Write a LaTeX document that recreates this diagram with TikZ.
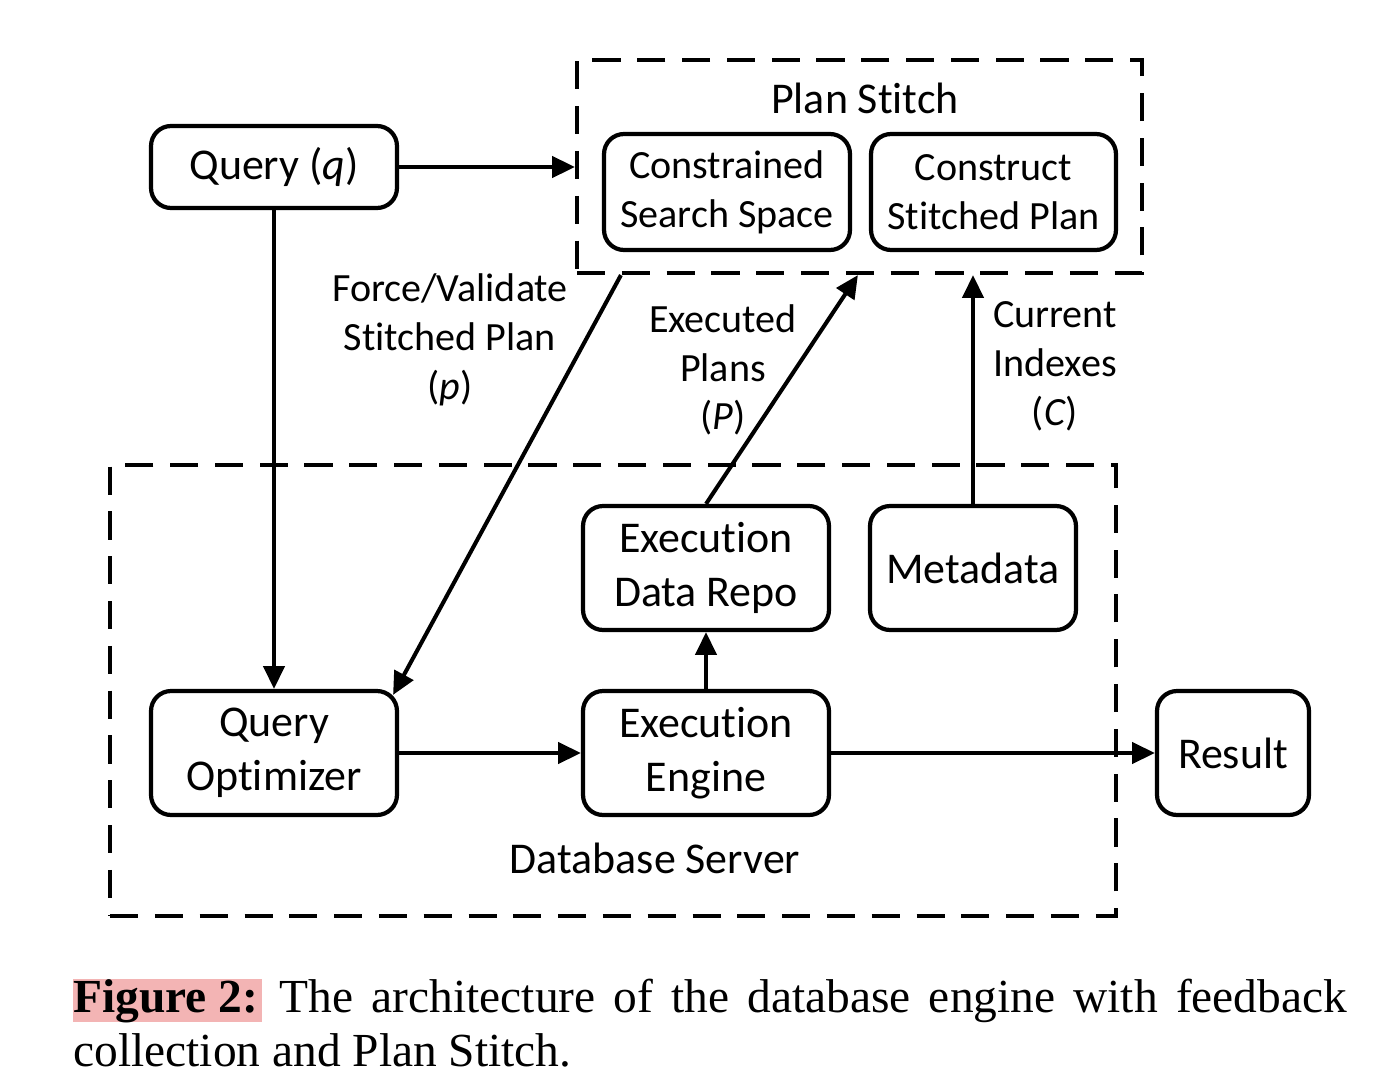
\documentclass[tikz,border=0pt]{standalone}
\usepackage{fontspec}
\setmainfont{Carlito}[Ligatures=NoCommon]
\newfontfamily\capfont{Liberation Serif}
\usetikzlibrary{arrows.meta,calc}
\definecolor{hl}{RGB}{243,180,180}
\begin{document}
\begin{tikzpicture}[x=0.02cm,y=-0.02cm,
 box/.style={draw,line width=2.4pt,rounded corners=0.4cm,align=center,inner sep=0pt},
 big/.style={font=\fontsize{25}{31}\selectfont},
 small/.style={font=\fontsize{22.8}{27.8}\selectfont},
 arr/.style={line width=2.3pt,-{Triangle[length=13pt,width=12pt]}},
 group/.style={draw,line width=2.4pt,dash pattern=on 16pt off 9.5pt,inner sep=0pt}]
\useasboundingbox (0,0) rectangle (1400,1092);
% groups
\node[group,minimum width=11.3cm,minimum height=4.26cm] (ps) at (859.5,166.5) {};
\node[group,minimum width=20.12cm,minimum height=9.02cm] (db) at (613,690.5) {};
\node[big] (pslab) at (865,98) {Plan Stitch};
\node[big] (dblab) at (655,858) {Database Server};
% boxes
\node[box,big,minimum width=4.92cm,minimum height=1.64cm] (q) at (274,167) {Query (\textit{q})};
\node[box,small,minimum width=4.92cm,minimum height=2.32cm] (cs) at (727,192) {Constrained\\Search Space};
\node[box,small,minimum width=4.9cm,minimum height=2.32cm] (csp) at (993.5,192) {Construct\\Stitched Plan};
\node[box,big,minimum width=4.92cm,minimum height=2.48cm] (edr) at (706,568) {Execution\\Data Repo};
\node[box,big,minimum width=4.12cm,minimum height=2.48cm] (meta) at (973,568) {Metadata};
\node[box,big,minimum width=4.92cm,minimum height=2.48cm] (qo) at (274,753) {Query\\Optimizer};
\node[box,big,minimum width=4.92cm,minimum height=2.48cm] (ee) at (706,753) {Execution\\Engine};
\node[box,big,minimum width=3.04cm,minimum height=2.48cm] (res) at (1233,753) {Result};
% labels
\node[small,align=center] (fvlab) at (450,340) {Force/Validate\\Stitched Plan\\(\textit{p})};
\node[small,align=center] (eplab) at (723,370) {Executed\\Plans\\(\textit{P})};
\node[small,align=center] (cilab) at (1055,366) {Current\\Indexes\\(\textit{C})};
% connectors
\draw[arr] (q.east) -- (q.east -| ps.west);
\draw[arr] (q.south) -- (qo.north);
\draw[arr] ([xshift=0.92cm]ps.south west) -- ([xshift=-0.12cm,yshift=-0.12cm]qo.north east);
\draw[arr] (edr.north) -- ([xshift=5.66cm]ps.south west);
\draw[arr] (meta.north) -- (meta.north |- ps.south);
\draw[arr] (ee.north) -- (edr.south);
\draw[arr] (qo.east) -- (ee.west);
\draw[arr] (ee.east) -- (res.west);
% caption
\node[anchor=base west,text width=25.48cm,align=justify,inner sep=0pt,font=\capfont\fontsize{27}{31.2}\selectfont] (cap) at (73,1012) {{\setlength\fboxsep{0pt}\colorbox{hl}{\textbf{Figure 2:}\hspace{2pt}\rule[-4.5pt]{0pt}{23.2pt}}} The architecture of the database engine with feedback\linebreak collection and Plan Stitch.};
\end{tikzpicture}
\end{document}
